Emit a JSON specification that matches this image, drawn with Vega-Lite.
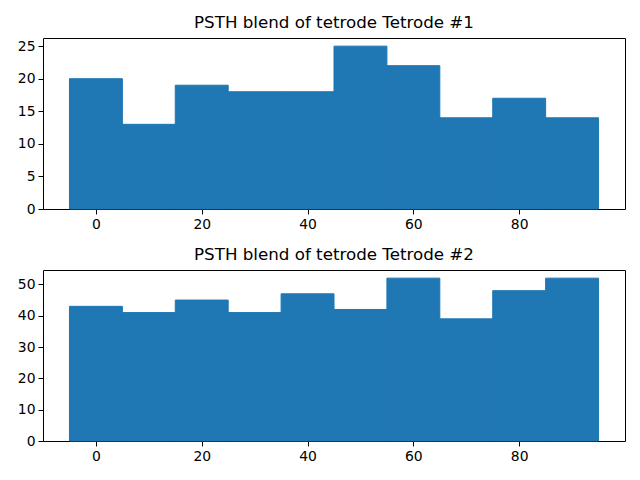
{
  "$schema": "https://vega.github.io/schema/vega-lite/v6.json",
  "autosize": {"type": "pad"},
  "padding": {"left": 16, "top": 14, "right": 15, "bottom": 5},
  "background": "white",
  "spacing": 61,
  "bounds": "flush",
  "config": {
    "font": "DejaVu Sans",
    "view": {"stroke": "black", "strokeWidth": 1},
    "axis": {
      "grid": false,
      "domain": false,
      "tickColor": "black",
      "tickSize": 5,
      "tickWidth": 1,
      "labelFont": "DejaVu Sans",
      "labelFontSize": 13.9,
      "labelColor": "black",
      "labelPadding": 3,
      "title": null
    },
    "title": {"font": "DejaVu Sans", "fontSize": 16.7, "fontWeight": "normal", "color": "black", "offset": 6}
  },
  "datasets": {
    "t1": [
      {"start": -5, "end": 5, "count": 20},
      {"start": 5, "end": 15, "count": 13},
      {"start": 15, "end": 25, "count": 19},
      {"start": 25, "end": 35, "count": 18},
      {"start": 35, "end": 45, "count": 18},
      {"start": 45, "end": 55, "count": 25},
      {"start": 55, "end": 65, "count": 22},
      {"start": 65, "end": 75, "count": 14},
      {"start": 75, "end": 85, "count": 17},
      {"start": 85, "end": 95, "count": 14}
    ],
    "t2": [
      {"start": -5, "end": 5, "count": 43},
      {"start": 5, "end": 15, "count": 41},
      {"start": 15, "end": 25, "count": 45},
      {"start": 25, "end": 35, "count": 41},
      {"start": 35, "end": 45, "count": 47},
      {"start": 45, "end": 55, "count": 42},
      {"start": 55, "end": 65, "count": 52},
      {"start": 65, "end": 75, "count": 39},
      {"start": 75, "end": 85, "count": 48},
      {"start": 85, "end": 95, "count": 52}
    ]
  },
  "vconcat": [
    {
      "title": "PSTH blend of tetrode Tetrode #1",
      "width": 582,
      "height": 171,
      "data": {"name": "t1"},
      "mark": {"type": "rect", "color": "#1f77b4", "stroke": "#1f77b4", "strokeWidth": 1},
      "encoding": {
        "x": {"field": "start", "type": "quantitative", "scale": {"domain": [-10, 100], "nice": false, "zero": false}, "axis": {"values": [0, 20, 40, 60, 80]}},
        "x2": {"field": "end"},
        "y": {"field": "count", "type": "quantitative", "scale": {"domain": [0, 26.25], "nice": false}, "axis": {"values": [0, 5, 10, 15, 20, 25]}},
        "y2": {"datum": 0}
      }
    },
    {
      "title": "PSTH blend of tetrode Tetrode #2",
      "width": 582,
      "height": 171,
      "data": {"name": "t2"},
      "mark": {"type": "rect", "color": "#1f77b4", "stroke": "#1f77b4", "strokeWidth": 1},
      "encoding": {
        "x": {"field": "start", "type": "quantitative", "scale": {"domain": [-10, 100], "nice": false, "zero": false}, "axis": {"values": [0, 20, 40, 60, 80]}},
        "x2": {"field": "end"},
        "y": {"field": "count", "type": "quantitative", "scale": {"domain": [0, 54.6], "nice": false}, "axis": {"values": [0, 10, 20, 30, 40, 50]}},
        "y2": {"datum": 0}
      }
    }
  ]
}
